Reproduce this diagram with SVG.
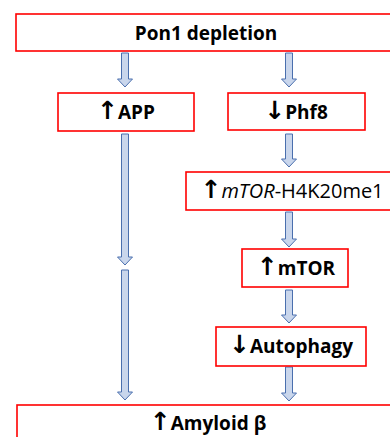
<svg xmlns="http://www.w3.org/2000/svg" width="390" height="437" viewBox="0 0 390 437">
  <style>
    .box { fill: #ffffff; stroke: #ff0000; stroke-width: 1.6; }
    .lbl { font-family: "Open Sans", "DejaVu Sans", sans-serif; font-size: 19px; font-weight: bold; fill: #000000; text-anchor: middle; }
    .ar { font-family: "DejaVu Sans", sans-serif; font-weight: bold; font-size: 25px; }
    .arrow { fill: #c9d6ec; stroke: #4a6fae; stroke-width: 1; }
  </style>
  <rect width="390" height="437" fill="#ffffff"/>

  <!-- block arrows -->
  <g id="connectors">
    <path class="arrow" d="M121.5 53 h7 v26 h4 l-7.5 8 l-7.5 -8 h4 z"/>
    <path class="arrow" d="M285.5 53 h7 v26 h4 l-7.5 8 l-7.5 -8 h4 z"/>
    <path class="arrow" d="M121.5 134 h7 v123 h4 l-7.5 8 l-7.5 -8 h4 z"/>
    <path class="arrow" d="M121.5 270 h7 v122 h4 l-7.5 8 l-7.5 -8 h4 z"/>
    <path class="arrow" d="M285.5 134 h7 v25 h4 l-7.5 8 l-7.5 -8 h4 z"/>
    <path class="arrow" d="M285.5 212 h7 v27 h4 l-7.5 8 l-7.5 -8 h4 z"/>
    <path class="arrow" d="M285.5 290 h7 v25 h4 l-7.5 8 l-7.5 -8 h4 z"/>
    <path class="arrow" d="M285.5 367 h7 v26 h4 l-7.5 8 l-7.5 -8 h4 z"/>
  </g>

  <g id="pon1">
    <rect class="box" x="16" y="14" width="384" height="37"/>
    <text class="lbl" x="206" y="40">Pon1 depletion</text>
  </g>
  <g id="app">
    <rect class="box" x="58" y="93" width="136" height="38"/>
    <text class="lbl" x="126" y="119"><tspan class="ar">↑</tspan>APP</text>
  </g>
  <g id="phf8">
    <rect class="box" x="228" y="93" width="137" height="37"/>
    <text class="lbl" x="296" y="119"><tspan class="ar">↓</tspan>Phf8</text>
  </g>
  <g id="h4k20me1">
    <rect class="box" x="186" y="172" width="212" height="38"/>
    <text class="lbl" x="292" y="198" style="font-weight:normal;font-size:20px"><tspan class="ar">↑</tspan><tspan font-style="italic">mTOR</tspan>-H4K20me1</text>
  </g>
  <g id="mtor">
    <rect class="box" x="242" y="249" width="106" height="38"/>
    <text class="lbl" x="296" y="275"><tspan class="ar">↑</tspan>mTOR</text>
  </g>
  <g id="autophagy">
    <rect class="box" x="216" y="327" width="150" height="39"/>
    <text class="lbl" x="291" y="353"><tspan class="ar">↓</tspan>Autophagy</text>
  </g>
  <g id="amyloid">
    <rect class="box" x="17" y="405" width="383" height="40"/>
    <text class="lbl" x="208" y="430"><tspan class="ar">↑</tspan>Amyloid β</text>
  </g>
</svg>
